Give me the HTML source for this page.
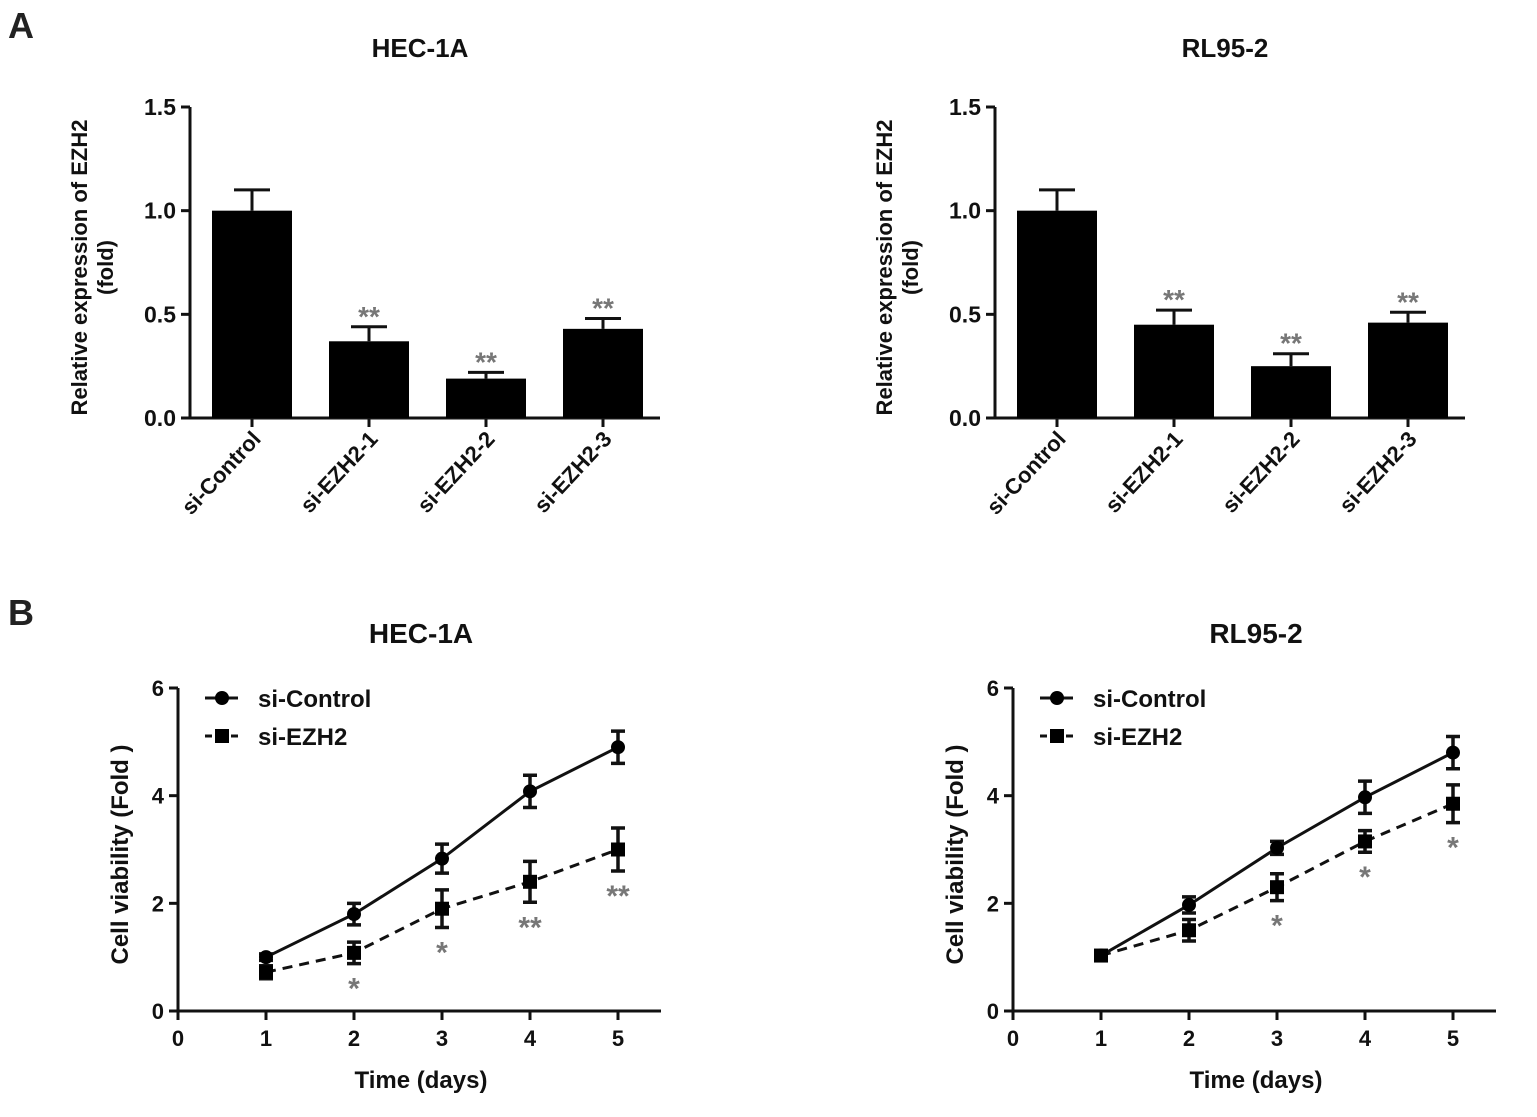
<!DOCTYPE html>
<html><head><meta charset="utf-8"><style>
body{margin:0;background:#fff}
svg{display:block;font-family:"Liberation Sans",Arial,sans-serif;font-weight:bold}
</style></head><body>
<svg id="fig" width="1537" height="1117" viewBox="0 0 1537 1117"></svg>
<script>
const barCategories=["si-Control","si-EZH2-1","si-EZH2-2","si-EZH2-3"];
const barHecValues=[1.0,0.37,0.19,0.43];
const barHecErrors=[0.10,0.07,0.03,0.05];
const barHecStars=["","**","**","**"];
const barRlValues=[1.0,0.45,0.25,0.46];
const barRlErrors=[0.10,0.07,0.06,0.05];
const barRlStars=["","**","**","**"];
const barTicks=[0,0.5,1.0,1.5];
const barTickLabels=["0.0","0.5","1.0","1.5"];
const days=[1,2,3,4,5];
const xTicks=[0,1,2,3,4,5];
const yTicks=[0,2,4,6];
const hecControl=[1.0,1.8,2.83,4.08,4.9];
const hecControlErr=[0.06,0.2,0.27,0.3,0.3];
const hecEzh2=[0.72,1.08,1.9,2.4,3.0];
const hecEzh2Err=[0.12,0.2,0.35,0.38,0.4];
const hecStars=["","*","*","**","**"];
const rlControl=[1.03,1.97,3.03,3.97,4.8];
const rlControlErr=[0.05,0.15,0.12,0.3,0.3];
const rlEzh2=[1.03,1.5,2.3,3.15,3.85];
const rlEzh2Err=[0.05,0.2,0.25,0.2,0.35];
const rlStars=["","","*","*","*"];

const NS="http://www.w3.org/2000/svg";
const svg=document.getElementById('fig');
function el(tag,attrs,parent,text){const e=document.createElementNS(NS,tag);for(const k in attrs)e.setAttribute(k,attrs[k]);if(text!==undefined)e.textContent=text;(parent||svg).appendChild(e);return e;}

function txt(x,y,s,size,anchor,name,extra){const t=el('text',Object.assign({x:x,y:y,'font-size':size,'text-anchor':anchor||'middle',fill:'#111'},extra||{}),svg,s);


return t;}

txt(8,38,"A",36,'start','panel-label-a',{fill:'#222'});
txt(8,625,"B",36,'start','panel-label-b',{fill:'#222'});

function barChart(ax,title,vals,errs,stars,prefix){
  const y0=418,y15=107;
  const ys=v=>y0-(v/1.5)*(y0-y15);
  const xs=i=>ax+62+i*117;
  const g=el('g',{});
  
  
  txt(ax+230,57,title,26,'middle',prefix+'-title');
  el('line',{x1:ax,y1:y15,x2:ax,y2:y0,stroke:'#111','stroke-width':3},g);
  el('line',{x1:ax,y1:y0,x2:ax+470,y2:y0,stroke:'#111','stroke-width':3},g);
  barTicks.forEach((t,i)=>{el('line',{x1:ax-9,y1:ys(t),x2:ax,y2:ys(t),stroke:'#111','stroke-width':3},g);
    txt(ax-14,ys(t)+8,barTickLabels[i],23,'end',prefix+'-y-tick-label');});
  txt(0,0,"Relative expression of EZH2",22,'middle',prefix+'-y-axis-title',{transform:`translate(${ax-103},${(y0+y15)/2+5}) rotate(-90)`});
  txt(0,0,"(fold)",22,'middle',prefix+'-y-axis-title-unit',{transform:`translate(${ax-77},${(y0+y15)/2+5}) rotate(-90)`});
  vals.forEach((v,i)=>{
    const cx=xs(i);
    const ey=ys(v+errs[i]);
    const e=el('path',{d:`M${cx} ${ys(v)}V${ey}M${cx-18} ${ey}H${cx+18}`,stroke:'#111','stroke-width':3,fill:'none'},g);
    
    
    const r=el('rect',{x:cx-40,y:ys(v),width:80,height:y0-ys(v),fill:'#000'},g);
    
    
    el('line',{x1:cx,y1:y0,x2:cx,y2:y0+9,stroke:'#111','stroke-width':3},g);
    if(stars[i])txt(cx,ey-1,stars[i],28,'middle',prefix+'-significance',{fill:'#777'});
    txt(0,0,barCategories[i],22,'end',prefix+'-x-tick-label',{transform:`translate(${cx+10},${y0+22}) rotate(-47)`});
  });
}
barChart(190,"HEC-1A",barHecValues,barHecErrors,barHecStars,'hec-a');
barChart(995,"RL95-2",barRlValues,barRlErrors,barRlStars,'rl-a');

function lineChart(ax,title,ctl,ctlE,ez,ezE,stars,prefix){
  const y0=1011,y6=688;
  const ys=v=>y0-(v/6)*(y0-y6);
  const xs=d=>ax+d*88;
  const g=el('g',{});
  
  
  txt(ax+243,643,title,28,'middle',prefix+'-title');
  el('line',{x1:ax,y1:y6,x2:ax,y2:y0,stroke:'#111','stroke-width':3},g);
  el('line',{x1:ax,y1:y0,x2:ax+483,y2:y0,stroke:'#111','stroke-width':3},g);
  yTicks.forEach(t=>{el('line',{x1:ax-9,y1:ys(t),x2:ax,y2:ys(t),stroke:'#111','stroke-width':3},g);
    txt(ax-14,ys(t)+8,String(t),22,'end',prefix+'-y-tick-label');});
  xTicks.forEach(t=>{el('line',{x1:xs(t),y1:y0,x2:xs(t),y2:y0+9,stroke:'#111','stroke-width':3},g);
    txt(xs(t),y0+35,String(t),22,'middle',prefix+'-x-tick-label');});
  txt(ax+243,1088,"Time (days)",24,'middle',prefix+'-x-axis-title');
  txt(0,0,"Cell viability (Fold )",24,'middle',prefix+'-y-axis-title',{transform:`translate(${ax-50},${(y0+y6)/2+5}) rotate(-90)`});
  const series=[[ctl,ctlE,'none','circle','si-control'],[ez,ezE,'10 7','square','si-ezh2']];
  series.forEach(([v,e,dash,shape,nm])=>{
    const p=el('polyline',{points:days.map((d,i)=>xs(d)+','+ys(v[i])).join(' '),fill:'none',stroke:'#111','stroke-width':3,'stroke-dasharray':dash},g);
    
    
    days.forEach((d,i)=>{
      const cx=xs(d),hi=ys(v[i]+e[i]),lo=ys(v[i]-e[i]);
      const eb=el('path',{d:`M${cx} ${hi}V${lo}M${cx-7} ${hi}H${cx+7}M${cx-7} ${lo}H${cx+7}`,stroke:'#111','stroke-width':3.5,fill:'none'},g);
      
      
      const m=shape==='circle'?el('circle',{cx:cx,cy:ys(v[i]),r:7,fill:'#000'},g):el('rect',{x:cx-7,y:ys(v[i])-7,width:14,height:14,fill:'#000'},g);
      
      
    });
  });
  days.forEach((d,i)=>{if(stars[i])txt(xs(d),ys(ez[i]-ezE[i])+35,stars[i],30,'middle',prefix+'-significance',{fill:'#777'});});
  const lx=ax+27;
  el('line',{x1:lx,y1:698,x2:lx+33,y2:698,stroke:'#111','stroke-width':3},g);
  el('circle',{cx:lx+17,cy:698,r:7,fill:'#000'},g);
  txt(lx+53,707,"si-Control",24,'start',prefix+'-legend-si-control');
  el('line',{x1:lx,y1:736,x2:lx+35,y2:736,stroke:'#111','stroke-width':3,'stroke-dasharray':'7 6'},g);
  el('rect',{x:lx+10,y:729,width:14,height:14,fill:'#000'},g);
  txt(lx+53,745,"si-EZH2",24,'start',prefix+'-legend-si-ezh2');
}
lineChart(178,"HEC-1A",hecControl,hecControlErr,hecEzh2,hecEzh2Err,hecStars,'hec-b');
lineChart(1013,"RL95-2",rlControl,rlControlErr,rlEzh2,rlEzh2Err,rlStars,'rl-b');
</script>
</body></html>
